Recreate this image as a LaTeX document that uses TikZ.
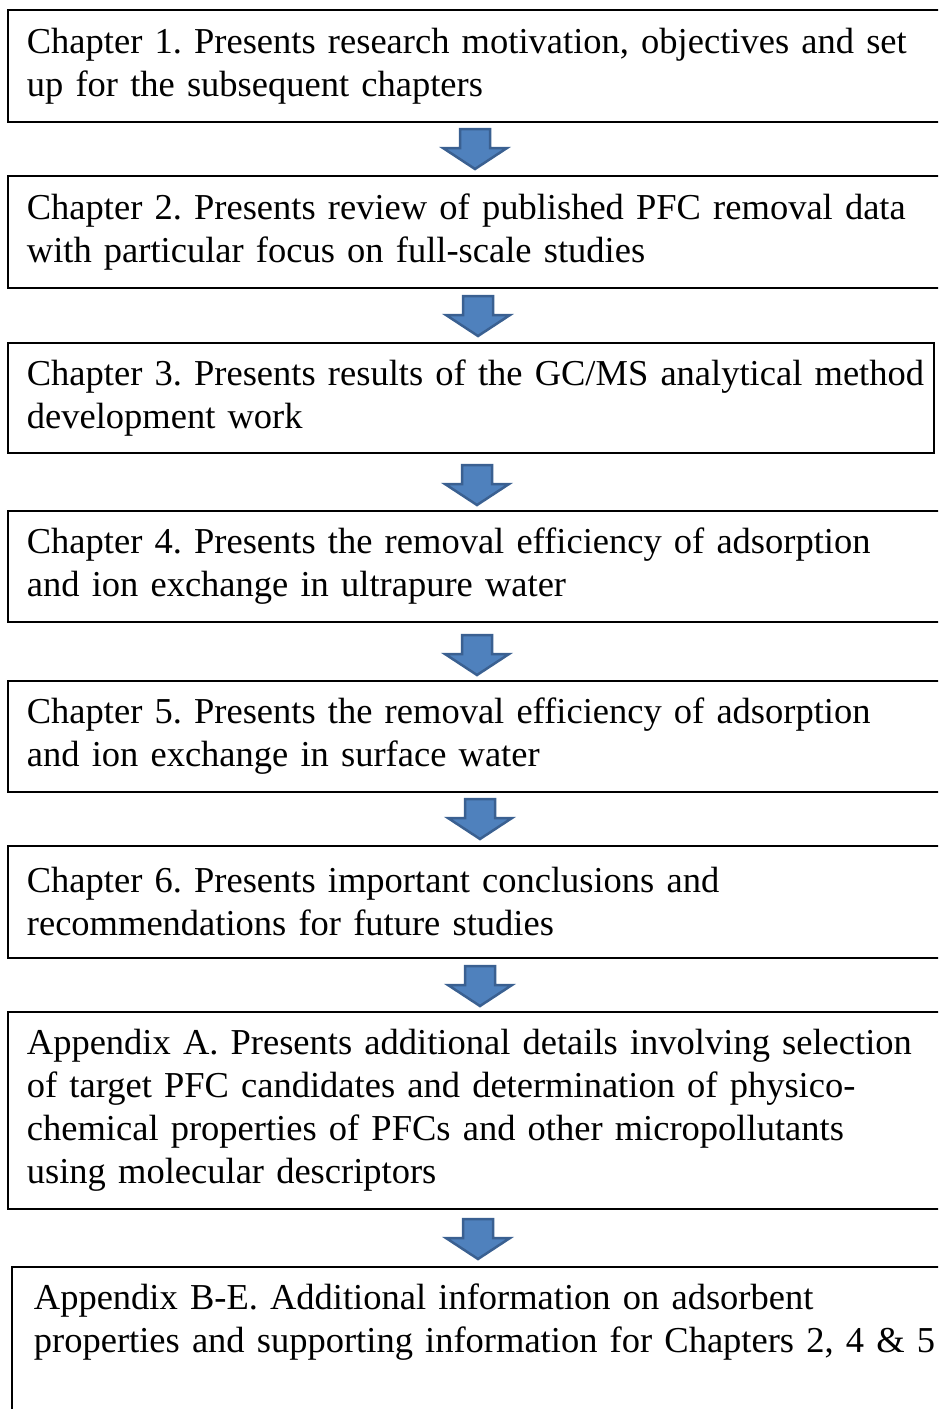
\documentclass[tikz,border=0pt]{standalone}
\usepackage{fontspec}
\setmainfont{Liberation Serif}
\definecolor{arrfill}{RGB}{79,129,189}
\definecolor{arrline}{RGB}{58,96,145}
\newcommand\blkarrow[2]{%
  \draw[blkarr] (#1-15,#2) -- (#1+15,#2) -- (#1+15,#2-19) -- (#1+32,#2-19)
    -- (#1,#2-40) -- (#1-32,#2-19) -- (#1-15,#2-19) -- cycle;}
\begin{document}
\begin{tikzpicture}[x=1pt,y=1pt,
  box/.style={draw=black, line width=1.8pt, anchor=north west, align=left,
    inner xsep=19pt, inner ysep=0pt, text width=895pt,
    font=\fontsize{36.5}{43}\selectfont\frenchspacing},
  blkarr/.style={fill=arrfill, draw=arrline, line width=2.5pt, line join=miter}]
\useasboundingbox (0,0) rectangle (938,-1409);
\clip (0,0) rectangle (938,-1409);

\node[box, minimum height=112pt] (b1) at (7,-9)
  {\mbox{Chapter 1. Presents research motivation, objectives and set}\\up for the subsequent chapters};
\node[box, minimum height=112pt] (b2) at (7,-175)
  {\mbox{Chapter 2. Presents review of published PFC removal data}\\with particular focus on full-scale studies};
\node[box, minimum height=110pt, text width=888pt] (b3) at (7,-342)
  {\mbox{Chapter 3. Presents results of the GC/MS analytical method}\\development work};
\node[box, minimum height=111pt] (b4) at (7,-510)
  {\mbox{Chapter 4. Presents the removal efficiency of adsorption}\\and ion exchange in ultrapure water};
\node[box, minimum height=111pt] (b5) at (7,-680)
  {\mbox{Chapter 5. Presents the removal efficiency of adsorption}\\and ion exchange in surface water};
\node[box, minimum height=112pt] (b6) at (7,-845)
  {Chapter 6. Presents important conclusions and\\recommendations for future studies};
\node[box, minimum height=197pt] (b7) at (7,-1011)
  {\mbox{Appendix A. Presents additional details involving selection}\\of target PFC candidates and determination of physico-\\chemical properties of PFCs and other micropollutants\\using molecular descriptors};
\node[box, draw=none, minimum height=109pt, inner xsep=21pt, text width=890pt] (b8) at (12,-1267)
  {Appendix B-E. Additional information on adsorbent\\\mbox{properties and supporting information for Chapters 2, 4 \& 5}};
\draw[line width=1.8pt] ([yshift=-200pt]b8.north west) -- (b8.north west) -- (b8.north east) -- ([yshift=-200pt]b8.north east);

\blkarrow{475}{-129}
\blkarrow{478}{-296}
\blkarrow{477}{-465}
\blkarrow{477}{-635}
\blkarrow{480}{-799}
\blkarrow{480}{-966}
\blkarrow{478}{-1219}
\end{tikzpicture}
\end{document}
